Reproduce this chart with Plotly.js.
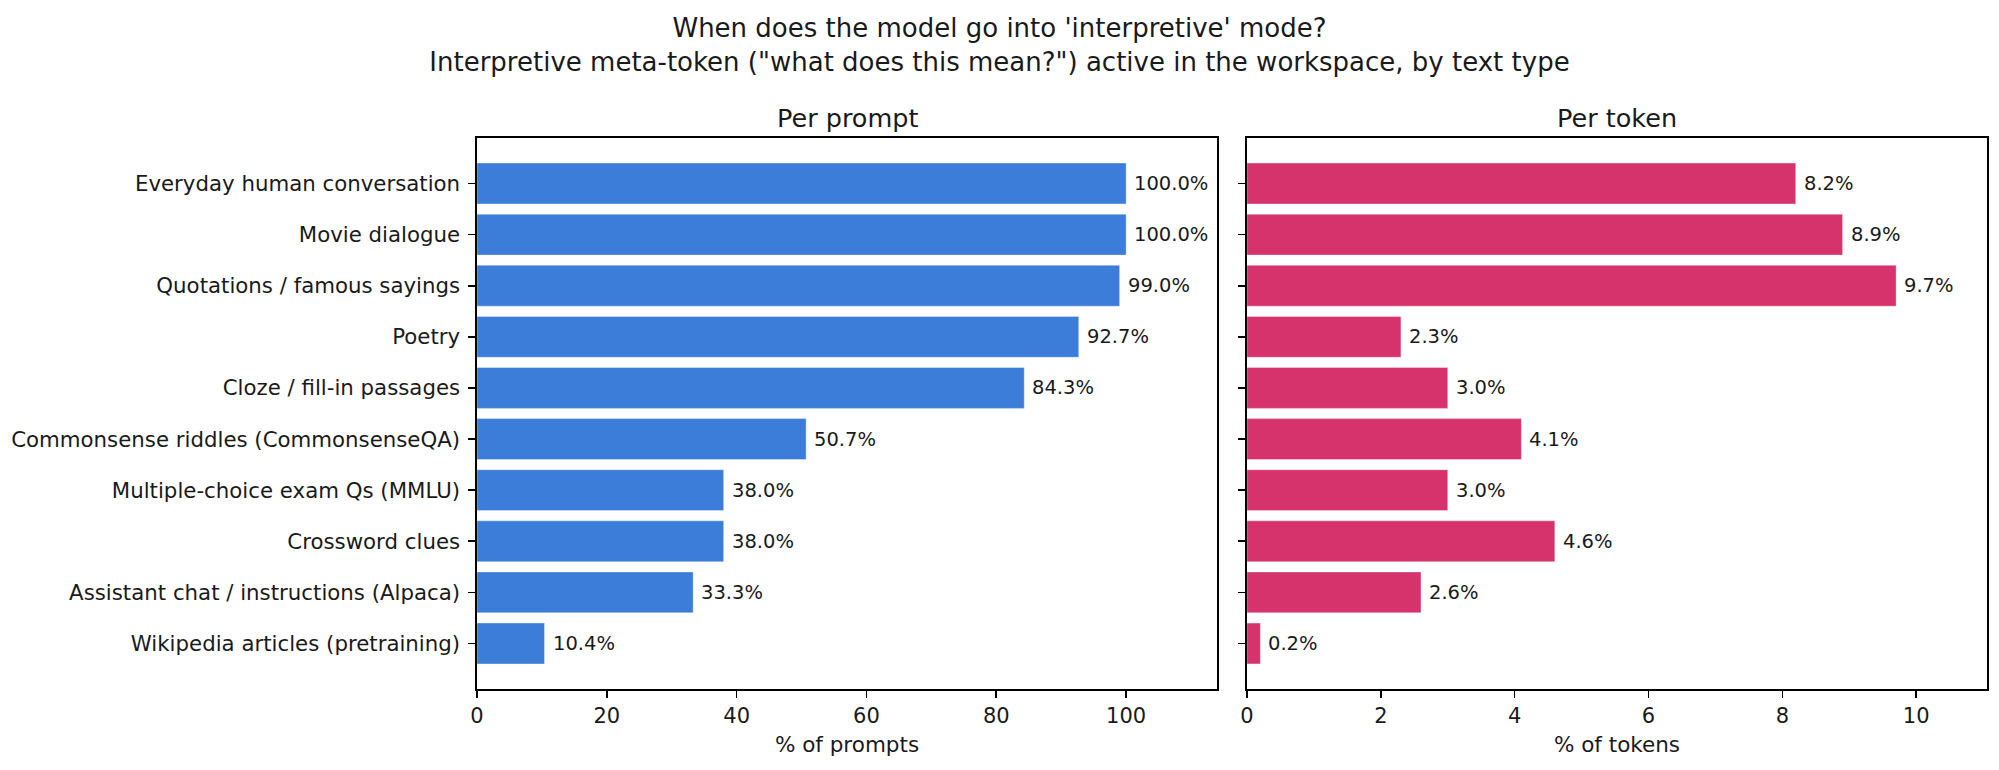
<!DOCTYPE html>
<html>
<head>
<meta charset="utf-8">
<script src="https://cdn.plot.ly/plotly-3.0.1.min.js"></script>
<style>
  html, body { margin: 0; padding: 0; background: #fff; }
  #chart { width: 1999px; height: 770px; }
</style>
</head>
<body>
<div id="chart"></div>
<script>
var categories = [
    "Everyday human conversation",
    "Movie dialogue",
    "Quotations / famous sayings",
    "Poetry",
    "Cloze / fill-in passages",
    "Commonsense riddles (CommonsenseQA)",
    "Multiple-choice exam Qs (MMLU)",
    "Crossword clues",
    "Assistant chat / instructions (Alpaca)",
    "Wikipedia articles (pretraining)",
];

var per_prompt = [100.0, 100.0, 99.0, 92.7, 84.3, 50.7, 38.0, 38.0, 33.3, 10.4]; // % of prompts
var per_token = [8.2, 8.9, 9.7, 2.3, 3.0, 4.1, 3.0, 4.6, 2.6, 0.2]; // % of tokens

var prompt_ticks = [0, 20, 40, 60, 80, 100];
var token_ticks = [0, 2, 4, 6, 8, 10];

var W = 1999, H = 770;
var font = "DejaVu Sans, sans-serif";
var ink = "#1a1a1a";

// pixel box of each panel -> paper fractions
var left_dom = [477 / W, 1217 / W];
var right_dom = [1247 / W, 1987 / W];
var y_dom = [1 - 689 / H, 1 - 138 / H];

function bar_trace(vals, color, xa, ya) {
    return {
        type: "bar",
        orientation: "h",
        x: vals,
        y: categories,
        xaxis: xa,
        yaxis: ya,
        width: 0.8,
        marker: { color: color, line: { color: "rgba(255,255,255,0.6)", width: 0.6 } },
        hoverinfo: "skip",
        showlegend: false,
    };
}

function value_labels(vals, xref, yref) {
    var out = [];
    for (var i = 0; i < vals.length; i++) {
        out.push({
            x: vals[i],
            y: categories[i],
            xref: xref,
            yref: yref,
            text: vals[i].toFixed(1) + "%",
            showarrow: false,
            xanchor: "left",
            yanchor: "middle",
            xshift: 6,
            font: { family: font, size: 19.5, color: ink },
        });
    }
    return out;
}

function x_axis(dom, maxv, ticks, title, anchor) {
    return {
        domain: dom,
        anchor: anchor,
        range: [0, maxv * 1.14],
        tickvals: ticks,
        ticks: "outside",
        ticklen: 7,
        tickwidth: 1.6,
        tickcolor: "#000",
        showline: true,
        mirror: true,
        linecolor: "#000",
        linewidth: 1.6,
        showgrid: false,
        zeroline: false,
        tickfont: { family: font, size: 21, color: ink },
        title: { text: title, font: { family: font, size: 21.5, color: ink }, standoff: 10 },
    };
}

function y_axis(anchor, labels) {
    return {
        domain: y_dom,
        anchor: anchor,
        type: "category",
        range: [9.89, -0.89],
        ticks: "outside",
        ticklen: 7,
        tickwidth: 1.6,
        tickcolor: "#000",
        showline: true,
        mirror: true,
        linecolor: "#000",
        linewidth: 1.6,
        showgrid: false,
        zeroline: false,
        showticklabels: labels,
        ticklabelstandoff: 4,
        tickfont: { family: font, size: 21.3, color: ink },
    };
}

var data = [
    bar_trace(per_prompt, "#3b7dd8", "x", "y"),
    bar_trace(per_token, "#d6336c", "x2", "y2"),
];

var annotations = value_labels(per_prompt, "x", "y").concat(value_labels(per_token, "x2", "y2"));
annotations.push({
    text: "Per prompt", xref: "paper", yref: "paper",
    x: (left_dom[0] + left_dom[1]) / 2, y: 1 - 118 / H,
    showarrow: false, xanchor: "center", yanchor: "middle",
    font: { family: font, size: 25.5, color: ink },
});
annotations.push({
    text: "Per token", xref: "paper", yref: "paper",
    x: (right_dom[0] + right_dom[1]) / 2, y: 1 - 118 / H,
    showarrow: false, xanchor: "center", yanchor: "middle",
    font: { family: font, size: 25.5, color: ink },
});

var layout = {
    width: W,
    height: H,
    margin: { l: 0, r: 0, t: 0, b: 0 },
    paper_bgcolor: "#fff",
    plot_bgcolor: "#fff",
    bargap: 0.2,
    title: {
        text: "When does the model go into 'interpretive' mode?<br>Interpretive meta-token (\"what does this mean?\") active in the workspace, by text type",
        x: 0.5,
        xanchor: "center",
        y: 1 - 37 / H,
        yanchor: "middle",
        font: { family: font, size: 26, color: ink },
    },
    xaxis: x_axis(left_dom, Math.max.apply(null, per_prompt), prompt_ticks, "% of prompts", "y"),
    yaxis: y_axis("x", true),
    xaxis2: x_axis(right_dom, Math.max.apply(null, per_token), token_ticks, "% of tokens", "y2"),
    yaxis2: y_axis("x2", false),
    annotations: annotations,
};

Plotly.newPlot("chart", data, layout, { displayModeBar: false, staticPlot: true });
</script>
</body>
</html>
